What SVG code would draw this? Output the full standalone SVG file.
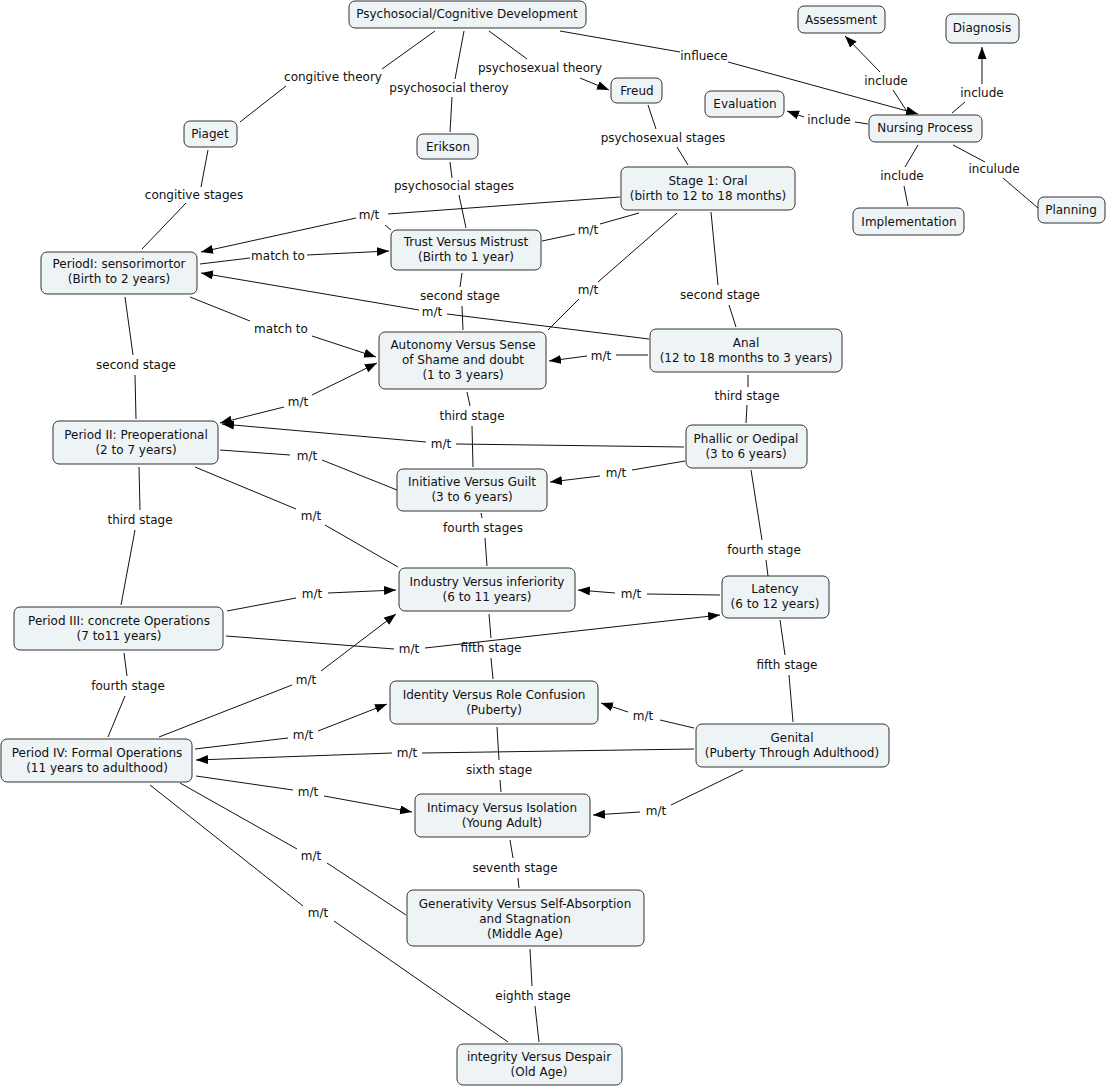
<svg xmlns="http://www.w3.org/2000/svg" width="1108" height="1088" viewBox="0 0 1108 1088">
<style>
.n rect{fill:#eef3f6;stroke:#333;stroke-width:1}
text{font-family:"DejaVu Sans",Verdana,sans-serif;font-size:12px;fill:#111;text-anchor:middle}
.c line{stroke:#111;stroke-width:1}
.a{marker-end:url(#ah)}
</style>
<defs>
<marker id="ah" markerWidth="13" markerHeight="10" refX="12" refY="4.5" orient="auto" markerUnits="userSpaceOnUse">
<path d="M0,0 L12,4.5 L0,9 z" fill="#000"/>
</marker>
</defs>
<rect width="1108" height="1088" fill="#fff"/>
<g id="connectors" class="c">
<line x1="435" y1="31" x2="382" y2="69"/><line x1="286" y1="86" x2="240" y2="122"/>
<line x1="464" y1="31" x2="455" y2="79"/><line x1="452" y1="97" x2="450" y2="132"/>
<line x1="489" y1="31" x2="527" y2="59"/><line class="a" x1="580" y1="78" x2="609" y2="90"/>
<line x1="560" y1="31" x2="680" y2="52"/><line class="a" x1="728" y1="62" x2="918" y2="114"/>
<line x1="908" y1="113" x2="893" y2="90"/><line class="a" x1="880" y1="72" x2="845" y2="36"/>
<line x1="952" y1="113" x2="965" y2="102"/><line class="a" x1="982" y1="84" x2="982" y2="47"/>
<line x1="868" y1="124" x2="855" y2="122"/><line class="a" x1="804" y1="117" x2="787" y2="111"/>
<line x1="918" y1="145" x2="905" y2="167"/><line x1="904" y1="186" x2="908" y2="206"/>
<line x1="953" y1="145" x2="985" y2="162"/><line x1="1003" y1="178" x2="1038" y2="208"/>
<line x1="648" y1="105" x2="656" y2="129"/><line x1="677" y1="147" x2="688" y2="165"/>
<line x1="208" y1="150" x2="201" y2="187"/><line x1="186" y1="203" x2="142" y2="249"/>
<line x1="450" y1="162" x2="452" y2="178"/><line x1="459" y1="195" x2="466" y2="228"/>
<line x1="620" y1="197" x2="388" y2="214"/><line class="a" x1="356" y1="218" x2="201" y2="252"/><line x1="385" y1="225" x2="391" y2="230"/>
<line x1="200" y1="264" x2="250" y2="258"/><line class="a" x1="307" y1="255" x2="389" y2="251"/>
<line x1="190" y1="297" x2="250" y2="321"/><line class="a" x1="312" y1="336" x2="376" y2="357"/>
<line x1="542" y1="241" x2="575" y2="234"/><line x1="600" y1="224" x2="639" y2="213"/>
<line x1="677" y1="213" x2="598" y2="282"/><line x1="579" y1="299" x2="548" y2="330"/>
<line x1="711" y1="212" x2="718" y2="285"/><line x1="729" y1="305" x2="736" y2="327"/>
<line x1="462" y1="273" x2="460" y2="287"/><line x1="462" y1="306" x2="463" y2="330"/>
<line x1="649" y1="339" x2="447" y2="314"/><line class="a" x1="419" y1="310" x2="201" y2="273"/>
<line x1="648" y1="355" x2="616" y2="355"/><line class="a" x1="587" y1="356" x2="549" y2="361"/>
<line class="a" x1="312" y1="395" x2="377" y2="363"/><line class="a" x1="284" y1="407" x2="220" y2="423"/>
<line x1="125" y1="297" x2="133" y2="355"/><line x1="135" y1="375" x2="136" y2="419"/>
<line x1="467" y1="392" x2="470" y2="406"/><line x1="472" y1="426" x2="473" y2="467"/>
<line x1="748" y1="375" x2="748" y2="387"/><line x1="747" y1="405" x2="746" y2="423"/>
<line x1="684" y1="447" x2="456" y2="444"/><line class="a" x1="426" y1="442" x2="222" y2="424"/>
<line x1="220" y1="450" x2="290" y2="455"/><line x1="322" y1="460" x2="397" y2="490"/>
<line x1="685" y1="461" x2="632" y2="470"/><line class="a" x1="600" y1="476" x2="550" y2="482"/>
<line x1="195" y1="467" x2="296" y2="509"/><line x1="325" y1="525" x2="398" y2="567"/>
<line x1="481" y1="513" x2="482" y2="518"/><line x1="485" y1="538" x2="487" y2="566"/>
<line x1="751" y1="470" x2="762" y2="540"/><line x1="766" y1="560" x2="768" y2="576"/>
<line x1="139" y1="467" x2="140" y2="510"/><line x1="135" y1="530" x2="121" y2="605"/>
<line x1="227" y1="611" x2="296" y2="598"/><line class="a" x1="328" y1="593" x2="396" y2="590"/>
<line x1="720" y1="595" x2="647" y2="594"/><line class="a" x1="615" y1="593" x2="578" y2="590"/>
<line x1="226" y1="636" x2="394" y2="649"/><line class="a" x1="425" y1="648" x2="720" y2="615"/>
<line x1="489" y1="614" x2="491" y2="638"/><line x1="491" y1="658" x2="493" y2="679"/>
<line x1="780" y1="620" x2="785" y2="655"/><line x1="789" y1="675" x2="793" y2="722"/>
<line x1="124" y1="653" x2="127" y2="676"/><line x1="125" y1="696" x2="108" y2="737"/>
<line x1="159" y1="737" x2="292" y2="685"/><line class="a" x1="321" y1="671" x2="396" y2="614"/>
<line x1="195" y1="749" x2="288" y2="738"/><line class="a" x1="318" y1="731" x2="387" y2="704"/>
<line x1="694" y1="728" x2="660" y2="720"/><line class="a" x1="628" y1="712" x2="601" y2="703"/>
<line x1="694" y1="749" x2="422" y2="753"/><line class="a" x1="392" y1="753" x2="196" y2="760"/>
<line x1="497" y1="727" x2="499" y2="760"/><line x1="500" y1="780" x2="501" y2="792"/>
<line x1="196" y1="776" x2="293" y2="790"/><line class="a" x1="324" y1="796" x2="412" y2="812"/>
<line x1="743" y1="770" x2="671" y2="805"/><line class="a" x1="640" y1="812" x2="593" y2="815"/>
<line x1="510" y1="840" x2="513" y2="858"/><line x1="518" y1="878" x2="519" y2="888"/>
<line x1="180" y1="783" x2="297" y2="849"/><line x1="327" y1="863" x2="406" y2="915"/>
<line x1="530" y1="949" x2="532" y2="986"/><line x1="535" y1="1006" x2="539" y2="1042"/>
<line x1="150" y1="785" x2="303" y2="906"/><line x1="334" y1="921" x2="508" y2="1042"/>
</g>
<g id="labels">
<text x="333" y="81">congitive theory</text>
<text x="449" y="92">psychosocial theroy</text>
<text x="540" y="72">psychosexual theory</text>
<text x="704" y="60">influece</text>
<text x="886" y="85">include</text>
<text x="982" y="97">include</text>
<text x="829" y="124">include</text>
<text x="902" y="180">include</text>
<text x="994" y="173">inculude</text>
<text x="663" y="142">psychosexual stages</text>
<text x="194" y="199">congitive stages</text>
<text x="454" y="190">psychosocial stages</text>
<text x="369" y="219">m/t</text>
<text x="278" y="260">match to</text>
<text x="281" y="333">match to</text>
<text x="588" y="234">m/t</text>
<text x="588" y="294">m/t</text>
<text x="720" y="299">second stage</text>
<text x="460" y="300">second stage</text>
<text x="432" y="316">m/t</text>
<text x="601" y="360">m/t</text>
<text x="298" y="406">m/t</text>
<text x="136" y="369">second stage</text>
<text x="472" y="420">third stage</text>
<text x="747" y="400">third stage</text>
<text x="441" y="448">m/t</text>
<text x="307" y="460">m/t</text>
<text x="616" y="477">m/t</text>
<text x="311" y="520">m/t</text>
<text x="483" y="532">fourth stages</text>
<text x="764" y="554">fourth stage</text>
<text x="140" y="524">third stage</text>
<text x="312" y="598">m/t</text>
<text x="631" y="598">m/t</text>
<text x="409" y="653">m/t</text>
<text x="491" y="652">fifth stage</text>
<text x="787" y="669">fifth stage</text>
<text x="128" y="690">fourth stage</text>
<text x="306" y="684">m/t</text>
<text x="303" y="739">m/t</text>
<text x="643" y="720">m/t</text>
<text x="407" y="757">m/t</text>
<text x="499" y="774">sixth stage</text>
<text x="308" y="796">m/t</text>
<text x="656" y="815">m/t</text>
<text x="515" y="872">seventh stage</text>
<text x="311" y="860">m/t</text>
<text x="533" y="1000">eighth stage</text>
<text x="318" y="917">m/t</text>
</g>
<g id="n1" class="n"><rect x="349" y="1" width="237" height="27" rx="6"/><text x="467" y="18">Psychosocial/Cognitive Development</text></g>
<g id="n2" class="n"><rect x="798" y="6" width="87" height="27" rx="6"/><text x="841" y="24">Assessment</text></g>
<g id="n3" class="n"><rect x="946" y="14" width="73" height="29" rx="6"/><text x="982" y="32">Diagnosis</text></g>
<g id="n4" class="n"><rect x="705" y="91" width="79" height="26" rx="6"/><text x="745" y="108">Evaluation</text></g>
<g id="n5" class="n"><rect x="869" y="115" width="113" height="27" rx="6"/><text x="925" y="132">Nursing Process</text></g>
<g id="n6" class="n"><rect x="611" y="78" width="51" height="25" rx="6"/><text x="637" y="95">Freud</text></g>
<g id="n7" class="n"><rect x="184" y="121" width="53" height="26" rx="6"/><text x="210" y="138">Piaget</text></g>
<g id="n8" class="n"><rect x="417" y="134" width="61" height="25" rx="6"/><text x="448" y="151">Erikson</text></g>
<g id="n9" class="n"><rect x="621" y="167" width="174" height="43" rx="6"/><text x="708" y="185">Stage 1: Oral</text><text x="708" y="200">(birth to 12 to 18 months)</text></g>
<g id="n10" class="n"><rect x="853" y="208" width="111" height="27" rx="6"/><text x="909" y="226">Implementation</text></g>
<g id="n11" class="n"><rect x="1038" y="197" width="67" height="26" rx="6"/><text x="1071" y="214">Planning</text></g>
<g id="n12" class="n"><rect x="391" y="230" width="150" height="40" rx="6"/><text x="466" y="246">Trust Versus Mistrust</text><text x="466" y="261">(Birth to 1 year)</text></g>
<g id="n13" class="n"><rect x="41" y="252" width="156" height="42" rx="6"/><text x="119" y="268">PeriodI: sensorimortor</text><text x="119" y="283">(Birth to 2 years)</text></g>
<g id="n14" class="n"><rect x="379" y="332" width="167" height="57" rx="6"/><text x="463" y="349">Autonomy Versus Sense</text><text x="463" y="364">of Shame and doubt</text><text x="463" y="379">(1 to 3 years)</text></g>
<g id="n15" class="n"><rect x="650" y="329" width="192" height="43" rx="6"/><text x="746" y="347">Anal</text><text x="746" y="362">(12 to 18 months to 3 years)</text></g>
<g id="n16" class="n"><rect x="53" y="421" width="165" height="43" rx="6"/><text x="136" y="439">Period II: Preoperational</text><text x="136" y="454">(2 to 7 years)</text></g>
<g id="n17" class="n"><rect x="686" y="425" width="121" height="43" rx="6"/><text x="746" y="443">Phallic or Oedipal</text><text x="746" y="458">(3 to 6 years)</text></g>
<g id="n18" class="n"><rect x="397" y="469" width="150" height="42" rx="6"/><text x="472" y="486">Initiative Versus Guilt</text><text x="472" y="501">(3 to 6 years)</text></g>
<g id="n19" class="n"><rect x="399" y="568" width="176" height="43" rx="6"/><text x="487" y="586">Industry Versus inferiority</text><text x="487" y="601">(6 to 11 years)</text></g>
<g id="n20" class="n"><rect x="722" y="576" width="107" height="42" rx="6"/><text x="775" y="593">Latency</text><text x="775" y="608">(6 to 12 years)</text></g>
<g id="n21" class="n"><rect x="14" y="607" width="209" height="43" rx="6"/><text x="119" y="625">Period III: concrete Operations</text><text x="119" y="640">(7 to11 years)</text></g>
<g id="n22" class="n"><rect x="390" y="681" width="208" height="43" rx="6"/><text x="494" y="699">Identity Versus Role Confusion</text><text x="494" y="714">(Puberty)</text></g>
<g id="n23" class="n"><rect x="696" y="724" width="193" height="43" rx="6"/><text x="792" y="742">Genital</text><text x="792" y="757">(Puberty Through Adulthood)</text></g>
<g id="n24" class="n"><rect x="1" y="739" width="191" height="43" rx="6"/><text x="97" y="757">Period IV: Formal Operations</text><text x="97" y="772">(11 years to adulthood)</text></g>
<g id="n25" class="n"><rect x="415" y="794" width="175" height="43" rx="6"/><text x="502" y="812">Intimacy Versus Isolation</text><text x="502" y="827">(Young Adult)</text></g>
<g id="n26" class="n"><rect x="407" y="890" width="237" height="56" rx="6"/><text x="525" y="908">Generativity Versus Self-Absorption</text><text x="525" y="923">and Stagnation</text><text x="525" y="938">(Middle Age)</text></g>
<g id="n27" class="n"><rect x="457" y="1044" width="165" height="41" rx="6"/><text x="539" y="1061">integrity Versus Despair</text><text x="539" y="1076">(Old Age)</text></g>
</svg>
